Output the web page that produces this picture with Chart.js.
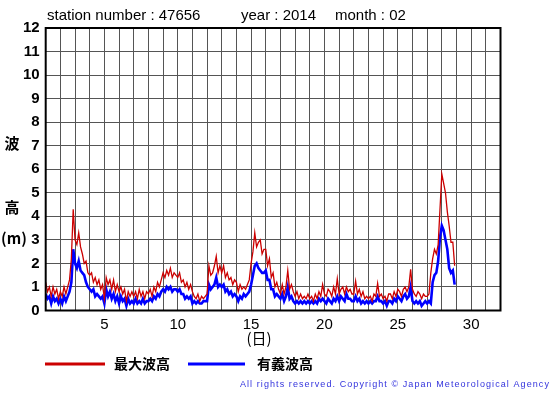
<!DOCTYPE html>
<html>
<head>
<meta charset="utf-8">
<script src="https://cdn.jsdelivr.net/npm/chart.js@4"></script>
<style>
  body { margin: 0; background: #fff; }
  canvas { display: block; }
</style>
</head>
<body>
<canvas id="waveChart" width="555" height="395"></canvas>
<script>
// 3-hourly readings, 8 per day, starting Feb 1 00:00
const startDay = 1;
const stepDays = 3 / 24;

const maxWave = [
  1.2, 0.8, 1.0, 0.6, 1.0, 0.7, 0.9, 0.5,
  0.8, 0.6, 1.0, 0.7, 1.0, 1.3, 2.2, 4.3,
  3.0, 2.8, 3.3, 2.7, 2.4, 2.0, 2.1, 1.6,
  1.5, 1.6, 1.2, 1.4, 1.1, 1.3, 0.9, 1.1,
  0.5, 1.4, 1.1, 1.3, 0.9, 1.3, 0.8, 1.1,
  0.8, 1.0, 0.7, 0.9, 0.4, 0.8, 0.6, 0.8,
  0.6, 0.8, 0.5, 0.9, 0.6, 0.8, 0.5, 0.8,
  0.7, 0.9, 0.6, 1.0, 0.8, 1.2, 1.0, 1.3,
  1.6, 1.4, 1.7, 1.5, 1.8, 1.4, 1.6, 1.5,
  1.4, 1.6, 1.2, 1.3, 1.0, 1.2, 0.9, 1.1,
  0.8, 0.6, 0.5, 0.7, 0.4, 0.6, 0.5, 0.6,
  0.7, 1.9, 1.5, 1.6, 1.9, 2.3, 1.6, 1.9,
  1.6, 1.9, 1.4, 1.6, 1.3, 1.4, 1.1, 1.3,
  1.2, 0.8, 1.1, 0.9, 1.0, 0.9, 1.1, 1.3,
  2.0, 2.5, 3.3, 2.7, 2.9, 3.0, 2.4, 2.6,
  2.6, 1.9, 2.2, 1.4, 1.6, 1.0, 1.2, 0.9,
  0.7, 1.1, 0.7, 1.0, 1.7, 0.9, 1.1, 0.8,
  0.6, 0.8, 0.5, 0.7, 0.5, 0.6, 0.5, 0.7,
  0.5, 0.6, 0.4, 0.7, 0.5, 0.8, 0.6, 1.1,
  0.7, 0.6, 0.9, 0.8, 0.6, 1.0, 0.7, 1.35,
  0.7, 0.9, 1.0, 0.7, 1.0, 0.8, 0.9, 0.7,
  0.7, 1.25, 0.7, 0.9, 0.6, 0.8, 0.5, 0.6,
  0.5, 0.6, 0.4, 0.7, 0.6, 1.15, 0.6, 0.7,
  0.5, 0.6, 0.4, 0.7, 0.7, 0.5, 0.8, 0.6,
  0.9, 0.8, 0.6, 0.9, 1.0, 0.8, 1.0, 1.75,
  0.9, 0.7, 0.6, 0.8, 0.7, 0.5, 0.7, 0.6,
  0.6, 0.7, 1.6, 2.2, 2.6, 2.4, 2.8, 4.3,
  5.8, 5.4, 5.0, 4.2, 3.6, 2.9, 2.9, 1.9
];

const sigWave = [
  0.7, 0.5, 0.6, 0.3, 0.6, 0.4, 0.5, 0.3,
  0.5, 0.3, 0.6, 0.4, 0.6, 0.8, 1.2, 2.6,
  2.0, 1.8, 2.1, 1.7, 1.6, 1.5, 1.2, 1.0,
  0.9, 0.8, 0.9, 0.6, 0.7, 0.6, 0.5, 0.6,
  0.3, 0.9, 0.6, 0.8, 0.5, 0.7, 0.4, 0.6,
  0.3, 0.6, 0.4, 0.5, 0.2, 0.5, 0.3, 0.4,
  0.3, 0.5, 0.3, 0.4, 0.3, 0.5, 0.3, 0.4,
  0.4, 0.5, 0.4, 0.6, 0.5, 0.7, 0.6, 0.8,
  0.9, 0.8, 1.0, 0.9, 1.0, 0.8, 0.9, 0.9,
  0.8, 0.9, 0.7, 0.7, 0.5, 0.6, 0.5, 0.6,
  0.3, 0.4, 0.3, 0.4, 0.3, 0.3, 0.4, 0.4,
  0.4, 1.1, 0.9, 1.0, 1.1, 1.4, 1.0, 1.1,
  1.0, 1.1, 0.8, 0.9, 0.7, 0.8, 0.6, 0.7,
  0.6, 0.4, 0.6, 0.5, 0.7, 0.6, 0.7, 0.8,
  1.1, 1.5, 1.9, 2.0, 1.8, 1.7, 1.6, 1.6,
  1.7, 1.3, 1.3, 0.9, 0.9, 0.6, 0.7, 0.6,
  0.5, 0.7, 0.4, 0.6, 1.0, 0.5, 0.6, 0.4,
  0.3, 0.4, 0.3, 0.4, 0.3, 0.4, 0.3, 0.4,
  0.3, 0.4, 0.3, 0.4, 0.3, 0.5, 0.4, 0.5,
  0.4, 0.3, 0.5, 0.4, 0.3, 0.5, 0.4, 0.6,
  0.4, 0.6, 0.5, 0.4, 0.7, 0.5, 0.5, 0.4,
  0.4, 0.6, 0.4, 0.5, 0.3, 0.4, 0.3, 0.4,
  0.3, 0.4, 0.3, 0.4, 0.4, 0.6, 0.4, 0.4,
  0.3, 0.4, 0.2, 0.4, 0.4, 0.3, 0.5, 0.4,
  0.6, 0.5, 0.4, 0.6, 0.7, 0.5, 0.6, 1.0,
  0.4, 0.3, 0.4, 0.3, 0.4, 0.2, 0.3, 0.4,
  0.3, 0.4, 0.3, 1.2, 1.5, 1.6, 2.1, 3.1,
  3.6, 3.4, 3.0, 2.6, 1.8, 1.6, 1.7, 1.1
];

const xLabels = [5, 10, 15, 20, 25, 30];
const seriesNames = ["最大波高", "有義波高"];

const toPoints = arr => arr.map((v, i) => ({ x: startDay + i * stepDays, y: v }));

const FONT = "'Liberation Sans', Arial, sans-serif";

const extras = {
  id: "extras",
  afterDraw(chart) {
    const ctx = chart.ctx;
    const a = chart.chartArea;
    ctx.save();
    // frame
    ctx.strokeStyle = "#000";
    ctx.lineWidth = 2;
    ctx.strokeRect(a.left, a.top, a.right - a.left, a.bottom - a.top);

    // title
    ctx.fillStyle = "#000";
    ctx.font = "15px " + FONT;
    ctx.textBaseline = "middle";
    ctx.textAlign = "left";
    ctx.fillText("station number : 47656", 47, 16);
    ctx.fillText("year : 2014", 241, 16);
    ctx.fillText("month : 02", 335, 16);

    // y axis title
    ctx.font = "bold 15px 'Noto Sans CJK JP', sans-serif";
    ctx.textAlign = "center";
    ctx.fillText("波", 12, 143);
    ctx.fillText("高", 12, 207);
    ctx.fillText("(m)", 14, 238);

    // x axis title
    ctx.font = "15px 'Noto Sans CJK JP', sans-serif";
    ctx.fillText("(日)", 259, 338);

    // legend
    ctx.lineWidth = 3;
    ctx.strokeStyle = "#cc0000";
    ctx.beginPath(); ctx.moveTo(45, 364); ctx.lineTo(105, 364); ctx.stroke();
    ctx.strokeStyle = "#0000ff";
    ctx.beginPath(); ctx.moveTo(188, 364); ctx.lineTo(245, 364); ctx.stroke();
    ctx.font = "bold 14px 'Noto Sans CJK JP', sans-serif";
    ctx.textAlign = "left";
    ctx.fillText(seriesNames[0], 114, 364);
    ctx.fillText(seriesNames[1], 257, 364);

    // copyright
    ctx.font = "9px " + FONT;
    ctx.letterSpacing = "1.08px";
    ctx.fillStyle = "#3333dd";
    ctx.textAlign = "right";
    ctx.fillText("All rights reserved. Copyright \u00a9 Japan Meteorological Agency", 550, 385);
    ctx.restore();
  }
};

new Chart(document.getElementById("waveChart"), {
  type: "line",
  data: {
    datasets: [
      {
        label: seriesNames[0],
        data: toPoints(maxWave),
        borderColor: "#cc0000",
        borderWidth: 1.3,
        pointRadius: 0,
        tension: 0
      },
      {
        label: seriesNames[1],
        data: toPoints(sigWave),
        borderColor: "#0000ff",
        borderWidth: 2.6,
        pointRadius: 0,
        tension: 0
      }
    ]
  },
  options: {
    responsive: false,
    animation: false,
    layout: { padding: { left: 0, top: 28, right: 54.5, bottom: 0 } },
    plugins: { legend: { display: false }, tooltip: { enabled: false } },
    scales: {
      x: {
        type: "linear",
        min: 1,
        max: 32,
        afterFit: s => { s.height = 84.5; },
        grid: { color: "#555", lineWidth: 1, drawTicks: false },
        border: { display: false },
        ticks: {
          stepSize: 1,
          autoSkip: false,
          maxRotation: 0,
          padding: 5,
          color: "#000",
          font: { family: FONT, size: 15 },
          callback: v => xLabels.includes(v) ? String(v) : ""
        }
      },
      y: {
        min: 0,
        max: 12,
        afterFit: s => { s.width = 45.7; },
        grid: { color: "#555", lineWidth: 1, drawTicks: false },
        border: { display: false },
        ticks: {
          stepSize: 1,
          padding: 6,
          color: "#000",
          font: { family: FONT, size: 15, weight: "bold" }
        }
      }
    }
  },
  plugins: [extras]
});
</script>
</body>
</html>
